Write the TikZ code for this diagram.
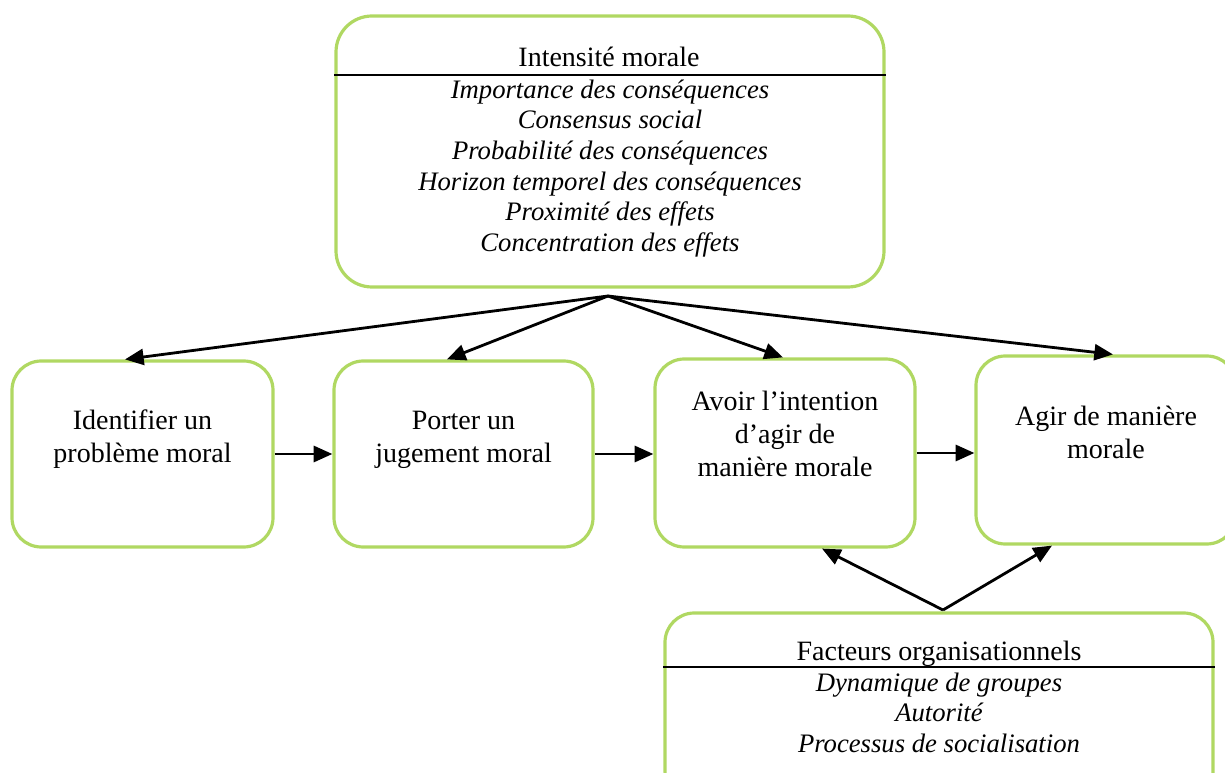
\documentclass[tikz,border=0pt]{standalone}
\usepackage{fontspec}
\setmainfont{Liberation Serif}
\usetikzlibrary{arrows.meta,calc}
\definecolor{boxgreen}{RGB}{176,216,98}
\begin{document}
\begin{tikzpicture}[x=0.75pt,y=-0.75pt,
  box/.style={draw=boxgreen, line width=2.4pt, rounded corners=22pt, fill=white, inner sep=0pt},
  conn/.style={draw=black, line width=2.1pt, -{Triangle[length=14pt,width=12pt]}},
  sepline/.style={draw=black, line width=1.3pt},
  boxtext/.style={align=center, inner sep=0pt, anchor=north, font=\fontsize{21}{24.75}\selectfont},
  titletext/.style={inner sep=0pt, anchor=base, font=\fontsize{21}{24.75}\selectfont},
  itemtext/.style={align=center, inner sep=0pt, anchor=north, font=\fontsize{20}{22.95}\selectfont\itshape},
]
\useasboundingbox (0,0) rectangle (1225,773);

% boxes
\node[box, minimum width=411pt, minimum height=203.25pt, rounded corners=27pt] (tb) at (610,151.5) {};
\node[box, minimum width=195.75pt, minimum height=139.5pt] (b1) at (142.5,454) {};
\node[box, minimum width=194.25pt, minimum height=139.5pt] (b2) at (463.5,454) {};
\node[box, minimum width=195pt, minimum height=141pt] (b3) at (785,453) {};
\node[box, minimum width=195pt, minimum height=141pt] (b4) at (1106,450) {};
\node[box, minimum width=411pt, minimum height=140.25pt] (fb) at (939,706.5) {};

% top box content
\node[titletext] (tbt) at (609,67) {Intensité morale};
\coordinate (s1) at (0,75);
\draw[sepline] (tb.west |- s1) -- (tb.east |- s1);
\node[itemtext] (tbi) at (610,76.6) {\strut Importance des conséquences\\Consensus social\\Probabilité des conséquences\\Horizon temporel des conséquences\\Proximité des effets\\Concentration des effets};

% step boxes text
\node[boxtext] (t1) at (142.5,406) {\strut Identifier un\\problème moral};
\node[boxtext] (t2) at (463.5,406) {\strut Porter un\\jugement moral};
\node[boxtext] (t3) at (785,387) {\strut Avoir l’intention\\d’agir de\\manière morale};
\node[boxtext] (t4) at (1106,402) {\strut Agir de manière\\morale};

% bottom box content
\node[titletext] (fbt) at (939,660) {Facteurs organisationnels};
\coordinate (s2) at (0,667);
\draw[sepline] (fb.west |- s2) -- (fb.east |- s2);
\node[itemtext] (fbi) at (939,669.6) {\strut Dynamique de groupes\\Autorité\\Processus de socialisation};

% connectors from top
\coordinate (apex) at (608,296);
\draw[conn] (apex) -- ($(b1.north)+(-17.5,0)$);
\draw[conn] (apex) -- ($(b2.north)+(-16.5,0)$);
\draw[conn] (apex) -- ($(b3.north)+(-2,0)$);
\draw[conn] (apex) -- ($(b4.north)+(7,0)$);

% horizontal connectors
\draw[conn] (b1.east) -- (b2.west);
\draw[conn] (b2.east) -- (b3.west |- b2.east);
\draw[conn] (b3.east) -- (b4.west |- b3.east);

% connectors from bottom
\coordinate (apex2) at (943,610);
\draw[conn] (apex2) -- ($(b3.south)+(37,0)$);
\draw[conn] (apex2) -- ($(b4.south)+(-54,0)$);
\end{tikzpicture}
\end{document}
